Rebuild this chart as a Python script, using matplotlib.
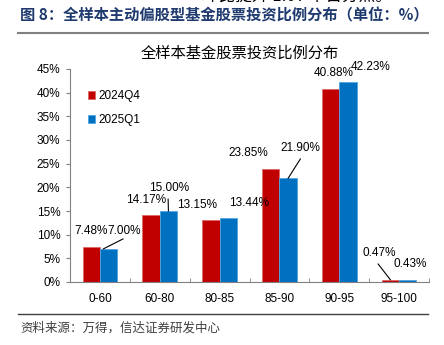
import matplotlib
matplotlib.use("Agg")
import matplotlib.pyplot as plt
import numpy as np

plt.rcParams['font.family'] = ['Liberation Sans', 'Noto Sans CJK SC', 'DejaVu Sans']

categories = ["0-60", "60-80", "80-85", "85-90", "90-95", "95-100"]
series_names = ["2024Q4", "2025Q1"]
q4_values = [7.48, 14.17, 13.15, 23.85, 40.88, 0.47]
q1_values = [7.00, 15.00, 13.44, 21.90, 42.23, 0.43]
yticks = [0, 5, 10, 15, 20, 25, 30, 35, 40, 45]

colors = ["#C00000", "#0070C0"]
edges = ["#E06666", "#4FA3E0"]

# label text positions (data coords) for each series
q4_label_pos = [(-0.15, 10.8), (0.77, 17.3), (1.62, 16.3), (2.48, 27.3), (3.90, 44.2), (4.67, 6.1)]
q1_label_pos = [(0.40, 10.8), (1.155, 19.9), (2.49, 16.7), (3.35, 28.3), (4.53, 45.4), (5.19, 3.8)]
# leader lines: (series index, category index, end point)
leaders = [(1, 0, (0.386, 9.1)), (1, 1, (1.14, 17.5)), (1, 3, (3.35, 26.0)), (0, 5, (4.65, 3.8))]

fig = plt.figure(figsize=(4.44, 3.45), dpi=100)
ax = fig.add_axes([70/444, 1-282/345, 359/444, 213/345])

x = np.arange(len(categories))
w = 0.29
ax.bar(x - w/2, q4_values, w, color=colors[0], edgecolor=edges[0], linewidth=0.6, label=series_names[0])
ax.bar(x + w/2, q1_values, w, color=colors[1], edgecolor=edges[1], linewidth=0.6, label=series_names[1])

ax.set_xlim(-0.5, len(categories) - 0.5)
ax.set_ylim(0, 45)
ax.set_yticks(yticks)
ax.set_yticklabels([f"{v}%" for v in yticks])
ax.set_xticks(x)
ax.set_xticklabels(categories)
ax.set_xticks(np.arange(len(categories) + 1) - 0.5, minor=True)
ax.tick_params(axis='x', which='major', length=0, labelsize=8.5, pad=8, colors='#000000')
ax.tick_params(axis='x', which='minor', direction='in', length=3, color='#808080')
ax.tick_params(axis='y', direction='out', length=3, color='#808080', labelsize=8.5, pad=4)

for s in ['top', 'right']:
    ax.spines[s].set_visible(False)
for s in ['left', 'bottom']:
    ax.spines[s].set_color('#808080')
    ax.spines[s].set_linewidth(0.8)

lab_font = dict(fontsize=8.5, ha='center', va='center', color='#000000')
for i, v in enumerate(q4_values):
    ax.text(q4_label_pos[i][0], q4_label_pos[i][1], f"{v:.2f}%", clip_on=False, **lab_font)
for i, v in enumerate(q1_values):
    ax.text(q1_label_pos[i][0], q1_label_pos[i][1], f"{v:.2f}%", clip_on=False, **lab_font)

for si, ci, end in leaders:
    vals = q4_values if si == 0 else q1_values
    bx = ci - w/2 if si == 0 else ci + w/2
    bx = bx - w*0.3 if si == 1 and ci == 0 else bx
    ax.plot([bx, end[0]], [vals[ci], end[1]], color='#000000', lw=0.8, clip_on=False)

ax.legend(loc='upper left', bbox_to_anchor=(0.02, 0.95), frameon=False, fontsize=8.5,
          handlelength=0.6, handleheight=0.6, handletextpad=0.3, labelspacing=1.0)

fig.text(240/444, 1-53/345, "全样本基金股票投资比例分布", fontsize=11, va='center', ha='center',
         fontfamily=['Noto Sans CJK SC', 'DejaVu Sans'])

fig.text(202/444, 1.012, "环比提升 1.07 个百分点。", fontsize=12, va='center', ha='left',
         fontfamily=['Noto Sans CJK SC', 'DejaVu Sans'])
fig.text(20/444, 1-15/345, "图 8：全样本主动偏股型基金股票投资比例分布（单位：%）", fontsize=11,
         fontweight='bold', color='#1F3A6E', va='center', ha='left',
         fontfamily=['Noto Sans CJK SC', 'DejaVu Sans'])
fig.add_artist(plt.Line2D([18/444, 428/444], [1-33/345, 1-33/345], color='#808080', lw=1.5))
fig.add_artist(plt.Line2D([18/444, 428/444], [1-314/345, 1-314/345], color='#404040', lw=1.0))
fig.text(20/444, 1-328/345, "资料来源：万得，信达证券研发中心", fontsize=9, style='italic',
         color='#404040', va='center', ha='left',
         fontfamily=['Noto Sans CJK SC', 'DejaVu Sans'])

fig.savefig("out.png", dpi=100)
